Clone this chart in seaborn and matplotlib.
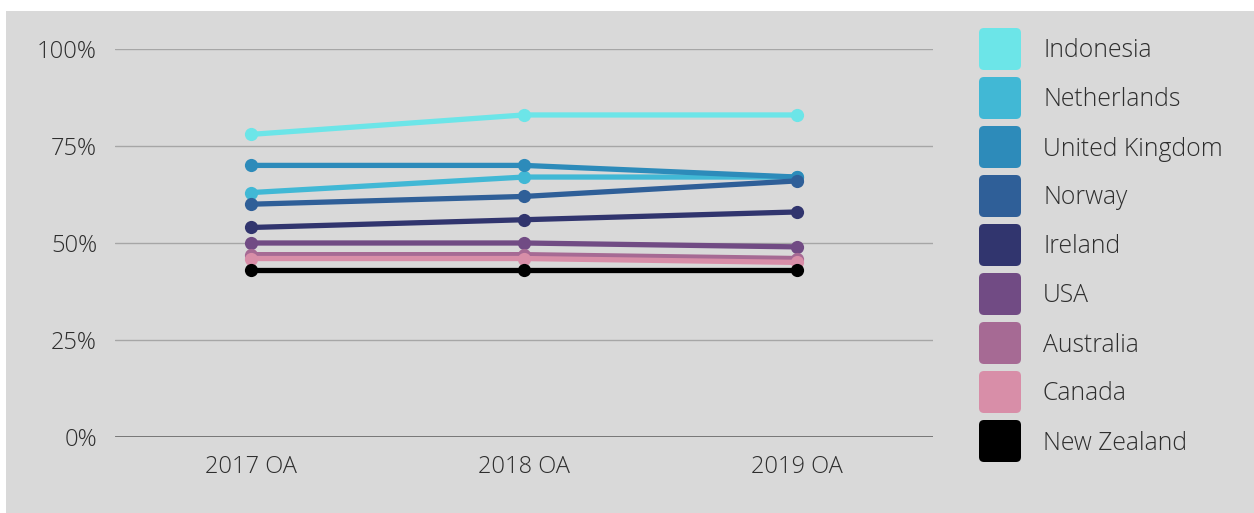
import matplotlib
matplotlib.use("Agg")
import matplotlib.pyplot as plt
import seaborn as sns
import pandas as pd
from matplotlib.patches import FancyBboxPatch, Rectangle
from matplotlib.ticker import FuncFormatter

years = ["2017 OA", "2018 OA", "2019 OA"]
countries = ["Indonesia", "Netherlands", "United Kingdom", "Norway", "Ireland",
             "USA", "Australia", "Canada", "New Zealand"]
indonesia = [78, 83, 83]
netherlands = [63, 67, 67]
united_kingdom = [70, 70, 67]
norway = [60, 62, 66]
ireland = [54, 56, 58]
usa = [50, 50, 49]
australia = [47, 47, 46]
canada = [46, 46, 45]
new_zealand = [43, 43, 43]
colors = ["#6ce5e8", "#41b8d5", "#2d8bba", "#2f5f98", "#31356e",
          "#714b84", "#a66a94", "#d88ea8", "#000000"]

series = [indonesia, netherlands, united_kingdom, norway, ireland,
          usa, australia, canada, new_zealand]
rows = []
for c, vals in zip(countries, series):
    for y, v in zip(years, vals):
        rows.append({"Year": y, "Country": c, "Value": v})
df = pd.DataFrame(rows)

sns.set_style("white")
plt.rcParams["font.family"] = ["Open Sans", "DejaVu Sans"]

W, H = 1254, 513
fig = plt.figure(figsize=(W / 100, H / 100), dpi=100)
fig.patch.set_facecolor("white")
fig.patches.append(Rectangle((6 / W, 0), 1 - 6 / W, 1 - 11 / H, transform=fig.transFigure,
                             facecolor="#d9d9d9", edgecolor="none", zorder=-10))

ax = fig.add_axes([115 / W, 76 / H, (933 - 115) / W, (437 - 49) / H])
ax.set_facecolor("none")

palette = dict(zip(countries, colors))
sns.lineplot(data=df, x="Year", y="Value", hue="Country", hue_order=countries,
             palette=palette, sort=False, marker="o", markersize=9.5,
             markeredgewidth=0, linewidth=3.8, legend=False, ax=ax)
for ln in ax.lines:
    ln.set_clip_on(False)

ax.set_xlim(-0.5, 2.5)
ax.set_ylim(0, 100)
ax.set_yticks([0, 25, 50, 75, 100])
ax.yaxis.set_major_formatter(FuncFormatter(lambda v, p: f"{int(v)}%"))
for v in [25, 50, 75, 100]:
    ax.axhline(v, color="#a6a6a6", lw=1.0, zorder=0)
ax.axhline(0, color="#5a5a5a", lw=1.8, zorder=0)
for s in ax.spines.values():
    s.set_visible(False)
ax.tick_params(axis="both", length=0, colors="#2e2e2e", labelsize=17)
ax.tick_params(axis="y", pad=13)
ax.tick_params(axis="x", pad=13)
ax.set_xlabel("")
ax.set_ylabel("")
for t in ax.get_xticklabels() + ax.get_yticklabels():
    t.set_fontweight("light")

# legend drawn manually: rounded squares + labels
for i, (name, col) in enumerate(zip(countries, colors)):
    top = 28 + 49 * i
    fig.patches.append(FancyBboxPatch((979 / W, 1 - (top + 42) / H), 42 / W, 42 / H,
                                      boxstyle="round,pad=0,rounding_size=0.004",
                                      transform=fig.transFigure, facecolor=col,
                                      edgecolor="none", mutation_aspect=W / H))
    fig.text(1043 / W, 1 - (top + 23) / H, name, fontsize=17.8, color="#2e2e2e",
             fontweight="light", ha="left", va="center")

fig.savefig("out.png", dpi=100, facecolor=fig.get_facecolor())
